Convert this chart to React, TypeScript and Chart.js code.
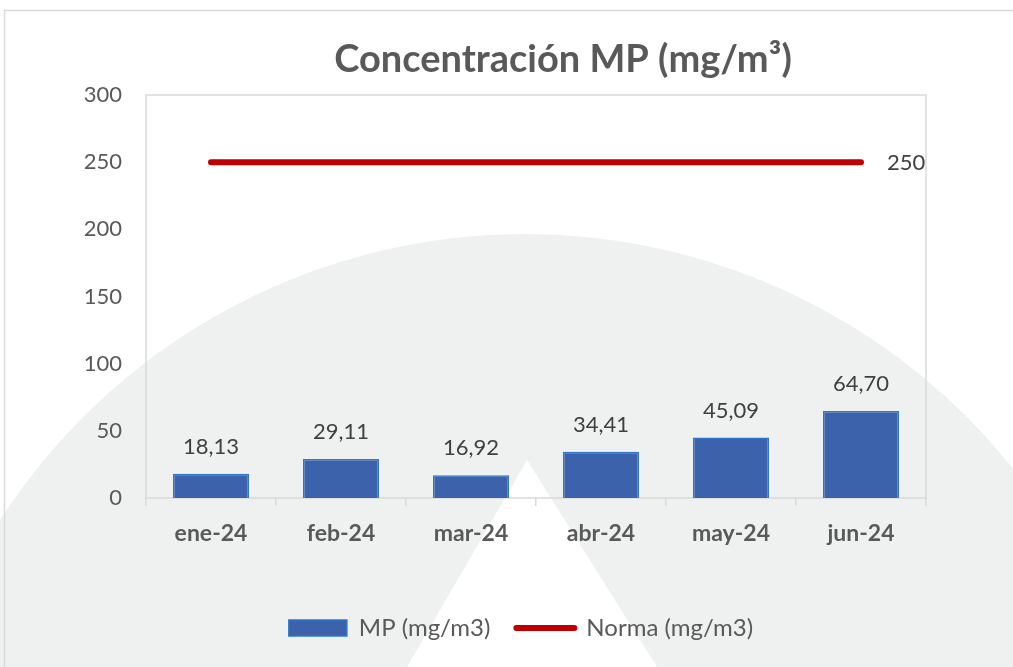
import React, { useEffect, useRef } from 'react';
import { Chart, registerables } from 'chart.js';

Chart.register(...registerables);

const chartTitle = 'Concentración MP (mg/m³)';
const categories = ['ene-24', 'feb-24', 'mar-24', 'abr-24', 'may-24', 'jun-24'];
const mpValues = [18.13, 29.11, 16.92, 34.41, 45.09, 64.7];
const normaValues = [250, 250, 250, 250, 250, 250];
const seriesNames = ['MP (mg/m3)', 'Norma (mg/m3)'];
const yTicks = [0, 50, 100, 150, 200, 250, 300];

const FONT = 'Lato';
const TEXT = '#595959';
const LABEL = '#404040';
const BAR_FILL = '#3B62AB';
const BAR_BORDER = '#2E75C9';
const RED = '#C00000';
const FRAME = '#D9D9D9';

const fmt = (v: number) => v.toFixed(2).replace('.', ',');

const backgroundPlugin = {
  id: 'bgWatermark',
  beforeDraw(chart: any) {
    const ctx = chart.ctx;
    const w = chart.width;
    const h = chart.height;
    ctx.save();
    ctx.fillStyle = '#ffffff';
    ctx.fillRect(0, 0, w, h);
    ctx.fillStyle = '#EFF0F0';
    ctx.beginPath();
    ctx.arc(525, 859, 625, 0, Math.PI * 2);
    ctx.fill();
    ctx.fillStyle = '#ffffff';
    ctx.beginPath();
    ctx.moveTo(527, 460);
    ctx.lineTo(407, 667);
    ctx.lineTo(657, 667);
    ctx.closePath();
    ctx.fill();
    ctx.strokeStyle = FRAME;
    ctx.lineWidth = 1.5;
    ctx.strokeRect(4.5, 10.5, w + 20, h + 20);
    ctx.fillStyle = TEXT;
    ctx.font = `bold 38px ${FONT}`;
    ctx.textAlign = 'center';
    ctx.textBaseline = 'middle';
    ctx.fillText(chartTitle, 563, 60);
    ctx.restore();
  },
  beforeDatasetsDraw(chart: any) {
    const { ctx, chartArea } = chart;
    ctx.save();
    ctx.strokeStyle = FRAME;
    ctx.lineWidth = 1.5;
    ctx.strokeRect(chartArea.left, chartArea.top, chartArea.right - chartArea.left, chartArea.bottom - chartArea.top);
    ctx.restore();
  },
  afterDatasetsDraw(chart: any) {
    const ctx = chart.ctx;
    ctx.save();
    ctx.fillStyle = LABEL;
    ctx.font = `22px ${FONT}`;
    ctx.textAlign = 'center';
    ctx.textBaseline = 'middle';
    const bars = chart.getDatasetMeta(0).data;
    bars.forEach((bar: any, i: number) => {
      ctx.fillText(fmt(mpValues[i]), bar.x, bar.y - 27);
    });
    const pts = chart.getDatasetMeta(1).data;
    const lastIdx = pts.length - 1;
    const last = pts[lastIdx];
    ctx.textAlign = 'left';
    ctx.fillText(String(normaValues[lastIdx]), last.x + 26, last.y + 1);
    ctx.restore();
  },
};

export default function App() {
  const ref = useRef<HTMLCanvasElement | null>(null);
  useEffect(() => {
    if (!ref.current) return;
    const chart = new Chart(ref.current, {
      type: 'bar',
      data: {
        labels: categories,
        datasets: [
          {
            type: 'bar',
            label: seriesNames[0],
            data: mpValues,
            backgroundColor: BAR_FILL,
            borderColor: BAR_BORDER,
            borderWidth: 1.5,
            barPercentage: 0.585,
            categoryPercentage: 1,
            order: 2,
          },
          {
            type: 'line',
            label: seriesNames[1],
            data: normaValues,
            borderColor: RED,
            backgroundColor: RED,
            borderWidth: 6,
            borderCapStyle: 'round',
            pointRadius: 0,
            fill: false,
            order: 1,
          },
        ],
      } as any,
      options: {
        responsive: false,
        animation: false,
        layout: { padding: { left: 60, right: 31, top: 95, bottom: 17 } },
        plugins: {
          title: { display: false },
          tooltip: { enabled: false },
          legend: {
            position: 'bottom',
            labels: {
              usePointStyle: true,
              pointStyleWidth: 58,
              boxHeight: 16,
              padding: 26,
              color: TEXT,
              font: { family: FONT, size: 24 },
              generateLabels: () => [
                {
                  text: seriesNames[0],
                  fillStyle: BAR_FILL,
                  strokeStyle: BAR_BORDER,
                  lineWidth: 1.5,
                  pointStyle: 'rect',
                  datasetIndex: 0,
                  hidden: false,
                  fontColor: TEXT,
                },
                {
                  text: seriesNames[1],
                  fillStyle: RED,
                  strokeStyle: RED,
                  lineWidth: 6,
                  lineCap: 'round',
                  pointStyle: 'line',
                  datasetIndex: 1,
                  hidden: false,
                  fontColor: TEXT,
                },
              ],
            },
          },
        },
        scales: {
          x: {
            grid: {
              display: true,
              drawOnChartArea: false,
              drawTicks: true,
              tickLength: 8,
              color: FRAME,
              lineWidth: 1.5,
              offset: true,
            },
            border: { display: false },
            ticks: {
              color: TEXT,
              padding: 14,
              font: { family: FONT, size: 23, weight: 'bold' },
            },
            afterFit: (scale: any) => {
              scale.height = 92;
            },
          },
          y: {
            position: 'left',
            min: yTicks[0],
            max: yTicks[yTicks.length - 1],
            grid: { display: false, drawTicks: false },
            border: { display: false },
            ticks: {
              stepSize: yTicks[1] - yTicks[0],
              color: TEXT,
              padding: 24,
              font: { family: FONT, size: 22 },
            },
            afterFit: (scale: any) => {
              scale.width = 86;
            },
          },
          ySpacer: {
            position: 'right',
            display: true,
            grid: { display: false, drawTicks: false },
            border: { display: false },
            ticks: { display: false },
            afterFit: (scale: any) => {
              scale.width = 56;
            },
          },
        },
      } as any,
      plugins: [backgroundPlugin],
    });
    return () => chart.destroy();
  }, []);
  return (
    <div style={{ position: 'fixed', left: 0, top: 0, width: 1013, height: 667 }}>
      <canvas ref={ref} width={1013} height={667} />
    </div>
  );
}
